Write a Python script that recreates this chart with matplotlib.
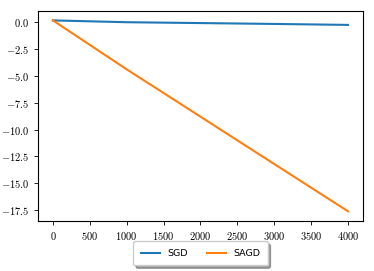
import matplotlib
matplotlib.use('Agg')
import matplotlib.pyplot as plt
from matplotlib.ticker import FuncFormatter

plt.rcParams['mathtext.fontset'] = 'cm'

# Данные
steps = [0, 1000, 2000, 3000, 4000]
sgd = [0.15, -0.02, -0.1, -0.18, -0.27]
sagd = [0.15, -4.4, -8.8, -13.2, -17.6]

fig = plt.figure(figsize=(3.74, 2.71), dpi=100)
ax = fig.add_axes([0.102, 0.185, 0.868, 0.775])

ax.plot(steps, sgd, label='SGD', linewidth=1.5)
ax.plot(steps, sagd, label='SAGD', linewidth=1.5)

ax.set_xticks(range(0, 4001, 500))
ax.set_yticks([0.0, -2.5, -5.0, -7.5, -10.0, -12.5, -15.0, -17.5])
ax.xaxis.set_major_formatter(FuncFormatter(lambda v, p: f'${v:.0f}$'))
ax.yaxis.set_major_formatter(FuncFormatter(lambda v, p: f'${v:.1f}$'))
ax.tick_params(labelsize=7.5, length=3, width=0.6)
for s in ax.spines.values():
    s.set_linewidth(0.8)

ax.legend(loc='upper center', bbox_to_anchor=(0.5, -0.075), ncol=2,
          fontsize=6.8, shadow=True, fancybox=True, borderpad=0.8,
          columnspacing=2.0)

fig.savefig('out.png', dpi=100)
